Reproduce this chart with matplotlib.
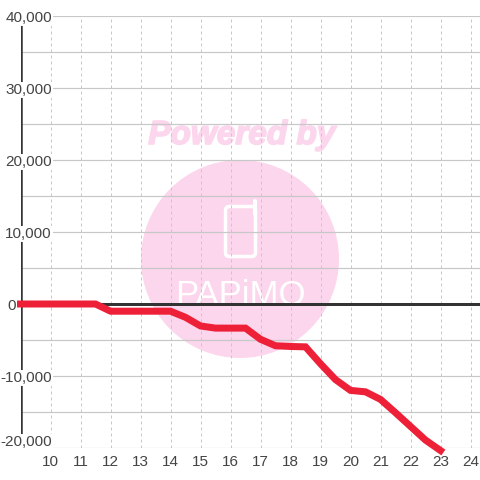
import matplotlib
matplotlib.use("Agg")
import matplotlib.pyplot as plt
import matplotlib.patches as mpatches
import matplotlib.patheffects as pe

plt.rcParams['font.family'] = ['Liberation Sans', 'DejaVu Sans']

# half-hourly values
hours = [9, 9.5, 10, 10.5, 11, 11.5, 12, 12.5, 13, 13.5, 14, 14.5, 15, 15.5, 16, 16.5,
         17, 17.5, 18, 18.5, 19, 19.5, 20, 20.5, 21, 21.5, 22, 22.5, 23]
values = [0, 0, 0, 0, 0, 0, -1000, -1000, -1000, -1000, -1000, -1850, -3050, -3350, -3350, -3350,
          -4900, -5800, -5900, -5950, -8300, -10500, -12000, -12200, -13250, -15100, -17000, -18900, -20350]

x_ticks = list(range(10, 25))
y_major = [40000, 30000, 20000, 10000, 0, -10000, -20000]
y_labels = ["40,000", "30,000", "20,000", "10,000", "0", "-10,000", "-20,000"]
y_minor = [35000, 25000, 15000, 5000, -5000, -15000]

GRID = "#c8c8c8"
DARK = "#333333"
RED = "#ee2038"
TEXT = "#444444"
PINK = "#fcd6ec"
PX = 0.72  # pixels to points at dpi 100


def main():
    fig = plt.figure(figsize=(4.8, 4.8), dpi=100, facecolor="white")

    # watermark sits behind the chart, in pixel coordinates
    bg = fig.add_axes([0, 0, 1, 1], zorder=0)
    bg.set_xlim(0, 480)
    bg.set_ylim(480, 0)
    bg.axis("off")
    bg.add_patch(mpatches.Circle((240, 259), 99, color=PINK, lw=0))
    bg.text(242, 135.5, "Powered by", color=PINK, fontsize=24, fontweight="bold", fontstyle="italic",
            ha="center", va="center",
            path_effects=[pe.withStroke(linewidth=1.2, foreground=PINK)])
    bg.add_patch(mpatches.FancyBboxPatch((225.5, 206.5), 30, 50, boxstyle="round,pad=0,rounding_size=4",
                                         fc="none", ec="white", lw=3.5 * PX))
    bg.plot([255, 255], [201, 214], color="white", lw=4 * PX, solid_capstyle="round")
    bg.text(240, 305, "PAPiMO", color="white", fontsize=25, ha="center", va="baseline")

    # chart axes: 30 px per hour, 72 px per 10,000
    ax = fig.add_axes([20.5 / 480, 32 / 480, 459.5 / 480, 432 / 480], zorder=1)
    ax.patch.set_alpha(0)
    ax.set_xlim(9, 24 + 9.5 / 30)
    ax.set_ylim(-20000, 40000)
    for s in ax.spines.values():
        s.set_visible(False)
    ax.set_xticks([])
    ax.set_yticks([])

    for v in y_major + y_minor:
        ax.axhline(v, color=GRID, lw=1.2 * PX, zorder=1)
    for t in x_ticks:
        ax.axvline(t, color=GRID, lw=1 * PX, ls=(0, (3, 3)), zorder=1)

    ax.axvline(9, color=DARK, lw=3.5 * PX, zorder=2)
    ax.axhline(0, color=DARK, lw=3 * PX, zorder=2)

    ax.plot(hours, values, color=RED, lw=7 * PX, solid_capstyle="projecting",
            solid_joinstyle="miter", clip_on=False, zorder=3)

    # tick labels sit inside the plot and mask what runs behind them
    box = dict(facecolor="white", edgecolor="none", pad=1)
    trans = ax.get_yaxis_transform()
    for v, lab in zip(y_major, y_labels):
        right = 16 if v == 0 else 52
        dy = 6 if v == -20000 else -2
        fx = (right - 20.5) / 459.5
        ax.text(fx, v + dy * 10000 / 72, lab, transform=trans, ha="right", va="center", color=TEXT,
                fontsize=11, bbox=box, zorder=4, clip_on=False)
    for t in x_ticks:
        ax.text(t, -20000 - 14 * 10000 / 72, str(t), ha="center", va="center", color=TEXT,
                fontsize=11, clip_on=False, zorder=4)

    fig.savefig("out.png", dpi=100, facecolor="white")
    plt.close(fig)


if __name__ == "__main__":
    main()
